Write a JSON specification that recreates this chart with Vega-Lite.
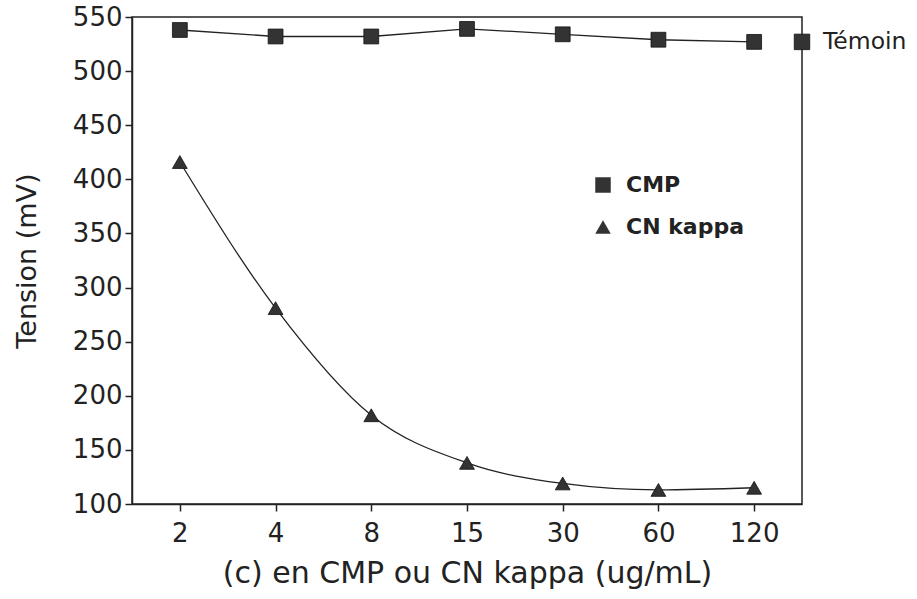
{
  "$schema": "https://vega.github.io/schema/vega-lite/v6.json",
  "width": 670,
  "height": 487,
  "autosize": {"type": "none"},
  "padding": {"left": 132, "top": 17, "right": 115, "bottom": 95},
  "background": "white",
  "config": {
    "view": {"stroke": "#222", "strokeWidth": 1.5},
    "font": "DejaVu Sans",
    "axis": {
      "domainColor": "#222", "domainWidth": 1.5,
      "tickColor": "#222", "tickWidth": 1.5, "tickSize": 7,
      "labelColor": "#222", "labelFont": "DejaVu Sans", "labelFontSize": 26,
      "titleFont": "DejaVu Sans", "titleFontWeight": "normal", "titleColor": "#222",
      "grid": false
    }
  },
  "datasets": {
    "series": [
      {"c": 2, "serie": "CMP", "tension": 538},
      {"c": 4, "serie": "CMP", "tension": 532},
      {"c": 8, "serie": "CMP", "tension": 532},
      {"c": 15, "serie": "CMP", "tension": 539},
      {"c": 30, "serie": "CMP", "tension": 534},
      {"c": 60, "serie": "CMP", "tension": 529},
      {"c": 120, "serie": "CMP", "tension": 527},
      {"c": 2, "serie": "CN kappa", "tension": 416},
      {"c": 4, "serie": "CN kappa", "tension": 281},
      {"c": 8, "serie": "CN kappa", "tension": 182},
      {"c": 15, "serie": "CN kappa", "tension": 138},
      {"c": 30, "serie": "CN kappa", "tension": 119},
      {"c": 60, "serie": "CN kappa", "tension": 113},
      {"c": 120, "serie": "CN kappa", "tension": 115}
    ],
    "temoin": [{"label": "Témoin", "tension": 527}]
  },
  "layer": [
    {
      "data": {"name": "series"},
      "encoding": {
        "x": {
          "field": "c", "type": "ordinal", "sort": "ascending",
          "scale": {"type": "point", "padding": 0.5},
          "axis": {"title": "(c) en CMP ou CN kappa (ug/mL)", "titleFontSize": 30, "labelAngle": 0, "labelPadding": 9, "titlePadding": 12}
        },
        "y": {
          "field": "tension", "type": "quantitative",
          "scale": {"domain": [100, 550], "nice": false, "zero": false},
          "axis": {"title": "Tension (mV)", "titleFontSize": 27, "values": [100, 150, 200, 250, 300, 350, 400, 450, 500, 550], "labelPadding": 3, "titlePadding": 31}
        }
      },
      "layer": [
        {
          "transform": [{"filter": "datum.serie === 'CMP'"}],
          "mark": {"type": "line", "color": "#222", "strokeWidth": 1.3}
        },
        {
          "transform": [{"filter": "datum.serie === 'CN kappa'"}],
          "mark": {"type": "line", "color": "#222", "strokeWidth": 1.3, "interpolate": "monotone"}
        },
        {
          "mark": {"type": "point", "filled": true, "opacity": 1, "color": "#333", "stroke": "#111", "strokeWidth": 0.8, "size": 220},
          "encoding": {
            "shape": {
              "field": "serie", "type": "nominal",
              "scale": {"domain": ["CMP", "CN kappa"], "range": ["square", "triangle-up"]},
              "legend": {
                "title": null, "orient": "none", "legendX": 460, "legendY": 157,
                "labelFont": "DejaVu Sans", "labelFontSize": 22, "labelFontWeight": "bold", "labelColor": "#222",
                "labelOffset": 12, "rowPadding": 20, "symbolSize": 240, "symbolFillColor": "#333", "symbolStrokeColor": "#111", "symbolStrokeWidth": 0.8
              }
            }
          }
        }
      ]
    },
    {
      "data": {"name": "temoin"},
      "encoding": {
        "x": {"datum": 1, "type": "quantitative", "scale": {"domain": [0, 1], "nice": false, "zero": false}, "axis": null},
        "y": {"field": "tension", "type": "quantitative"}
      },
      "layer": [
        {"mark": {"type": "point", "shape": "square", "filled": true, "opacity": 1, "size": 240, "color": "#333", "stroke": "#111", "strokeWidth": 0.8}},
        {"mark": {"type": "text", "align": "left", "baseline": "middle", "dx": 21, "fontSize": 23.5, "font": "DejaVu Sans", "color": "#222"}, "encoding": {"text": {"field": "label"}}}
      ]
    }
  ],
  "resolve": {"scale": {"x": "independent"}}
}
